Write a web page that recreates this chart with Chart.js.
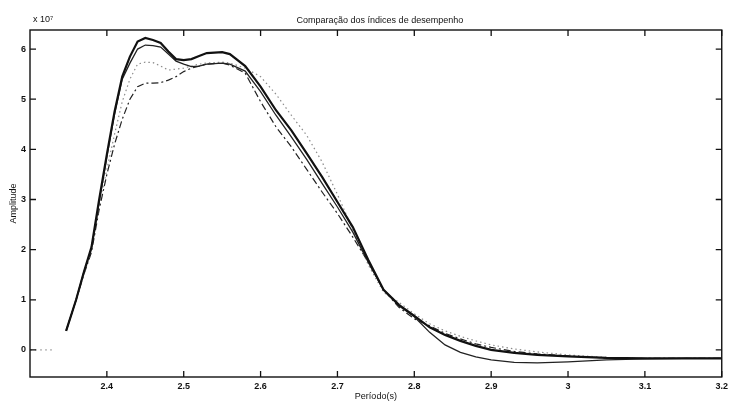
<!DOCTYPE html>
<html>
<head>
<meta charset="utf-8">
<script src="https://cdn.jsdelivr.net/npm/chart.js@4"></script>
<style>
html,body{margin:0;padding:0;background:#fff;}
#wrap{width:732px;height:402px;}
</style>
</head>
<body>
<div id="wrap"><canvas id="c" width="732" height="402"></canvas></div>
<script>
// ---- data ----
const chartTitle = "Comparação dos índices de desempenho";
const xTitle = "Período(s)";
const yTitle = "Amplitude";
const yExponent = "x 10\u2077";
const xTicks = [2.4, 2.5, 2.6, 2.7, 2.8, 2.9, 3.0, 3.1, 3.2];
const yTicks = [0, 1, 2, 3, 4, 5, 6];
const baselinePeriods = [2.30, 2.332];
const baselineValues = [0, 0];
const periods = [2.347,2.36,2.37,2.38,2.39,2.40,2.41,2.42,2.43,2.44,2.45,2.46,2.47,2.48,2.49,2.50,2.51,2.52,2.53,2.55,2.56,2.58,2.60,2.62,2.64,2.66,2.68,2.70,2.72,2.74,2.76,2.78,2.80,2.82,2.84,2.86,2.88,2.90,2.93,2.96,3.00,3.05,3.10,3.15,3.20];
const seriesA = [0.38,1.0,1.55,2.05,3.0,3.9,4.75,5.45,5.85,6.15,6.22,6.18,6.12,5.95,5.8,5.78,5.8,5.86,5.92,5.94,5.9,5.66,5.25,4.78,4.38,3.92,3.45,2.95,2.45,1.8,1.2,0.9,0.68,0.45,0.3,0.18,0.08,0.0,-0.06,-0.1,-0.13,-0.16,-0.17,-0.17,-0.17];
const seriesB = [0.38,1.0,1.55,2.02,2.95,3.85,4.7,5.4,5.72,6.0,6.08,6.07,6.04,5.9,5.76,5.7,5.65,5.66,5.7,5.72,5.7,5.56,5.15,4.68,4.25,3.8,3.32,2.85,2.35,1.75,1.2,0.88,0.66,0.35,0.1,-0.05,-0.14,-0.2,-0.25,-0.26,-0.24,-0.2,-0.18,-0.17,-0.17];
const seriesC = [0.38,1.0,1.5,1.98,2.9,3.6,4.3,4.95,5.4,5.7,5.74,5.73,5.66,5.58,5.6,5.62,5.66,5.7,5.72,5.74,5.72,5.62,5.45,5.1,4.68,4.28,3.75,3.1,2.4,1.7,1.15,0.95,0.72,0.52,0.38,0.27,0.18,0.1,0.02,-0.04,-0.1,-0.15,-0.17,-0.17,-0.17];
const seriesD = [0.38,1.0,1.5,1.95,2.8,3.5,4.1,4.6,5.0,5.25,5.32,5.32,5.33,5.38,5.45,5.55,5.62,5.66,5.7,5.72,5.68,5.52,4.95,4.45,4.05,3.6,3.15,2.72,2.25,1.75,1.2,0.85,0.62,0.48,0.33,0.22,0.12,0.05,-0.03,-0.08,-0.12,-0.16,-0.17,-0.17,-0.17];

const pts = (xs, ys) => xs.map((x, i) => ({x: x, y: ys[i]}));
const FONT = "'Liberation Sans', Arial, sans-serif";

const frame = {
  id: 'frame',
  afterDatasetsDraw(chart) {
    const {ctx, chartArea: a, scales: {x, y}} = chart;
    ctx.save();
    ctx.strokeStyle = '#111';
    ctx.lineWidth = 1.4;
    ctx.strokeRect(a.left, a.top, a.right - a.left, a.bottom - a.top);
    ctx.lineWidth = 1.3;
    const L = 6;
    ctx.beginPath();
    xTicks.forEach(v => {
      const px = x.getPixelForValue(v);
      ctx.moveTo(px, a.bottom); ctx.lineTo(px, a.bottom - L);
      ctx.moveTo(px, a.top); ctx.lineTo(px, a.top + L);
    });
    yTicks.forEach(v => {
      const py = y.getPixelForValue(v);
      ctx.moveTo(a.left, py); ctx.lineTo(a.left + L, py);
      ctx.moveTo(a.right, py); ctx.lineTo(a.right - L, py);
    });
    ctx.stroke();
    ctx.fillStyle = '#111';
    ctx.font = '9px ' + FONT;
    ctx.textAlign = 'center';
    ctx.textBaseline = 'middle';
    ctx.fillText(chartTitle, (a.left + a.right) / 2 + 4, 21);
    ctx.textAlign = 'left';
    ctx.fillText(yExponent, a.left + 3, 20);
    ctx.restore();
  }
};

new Chart(document.getElementById('c'), {
  type: 'line',
  data: {
    datasets: [
      {label: 'base', data: pts(baselinePeriods, baselineValues), borderColor: '#999', borderWidth: 1, borderDash: [2, 3]},
      {label: 'A', data: pts(periods, seriesA), borderColor: '#111', borderWidth: 2.2},
      {label: 'B', data: pts(periods, seriesB), borderColor: '#222', borderWidth: 1.3},
      {label: 'C', data: pts(periods, seriesC), borderColor: '#8a8a8a', borderWidth: 1.2, borderDash: [1.5, 3]},
      {label: 'D', data: pts(periods, seriesD), borderColor: '#222', borderWidth: 1.2, borderDash: [7, 3, 2, 3]}
    ]
  },
  options: {
    responsive: false,
    devicePixelRatio: 1,
    animation: false,
    layout: {padding: {top: 30, right: 2, left: 0, bottom: 0}},
    elements: {point: {radius: 0}, line: {tension: 0, fill: false}},
    plugins: {legend: {display: false}, tooltip: {enabled: false}, title: {display: false}},
    scales: {
      x: {
        type: 'linear', min: 2.3, max: 3.2,
        afterBuildTicks: s => { s.ticks = xTicks.map(v => ({value: v})); },
        afterFit: s => { s.height = 25; },
        grid: {display: false, drawTicks: false},
        border: {display: false},
        ticks: {color: '#111', font: {family: FONT, size: 9, weight: 'bold'}, padding: 4, maxRotation: 0,
          callback: v => String(Math.round(v * 10) / 10)},
        title: {display: true, text: xTitle, color: '#111', font: {family: FONT, size: 9}, padding: 0}
      },
      y: {
        min: -0.54, max: 6.38,
        afterBuildTicks: s => { s.ticks = yTicks.map(v => ({value: v})); },
        afterFit: s => { s.width = 30; },
        grid: {display: false, drawTicks: false},
        border: {display: false},
        ticks: {color: '#111', font: {family: FONT, size: 9, weight: 'bold'}, padding: 4},
        title: {display: true, text: yTitle, color: '#111', font: {family: FONT, size: 9}, padding: {top: 8, bottom: 0}}
      }
    }
  },
  plugins: [frame]
});
</script>
</body>
</html>
